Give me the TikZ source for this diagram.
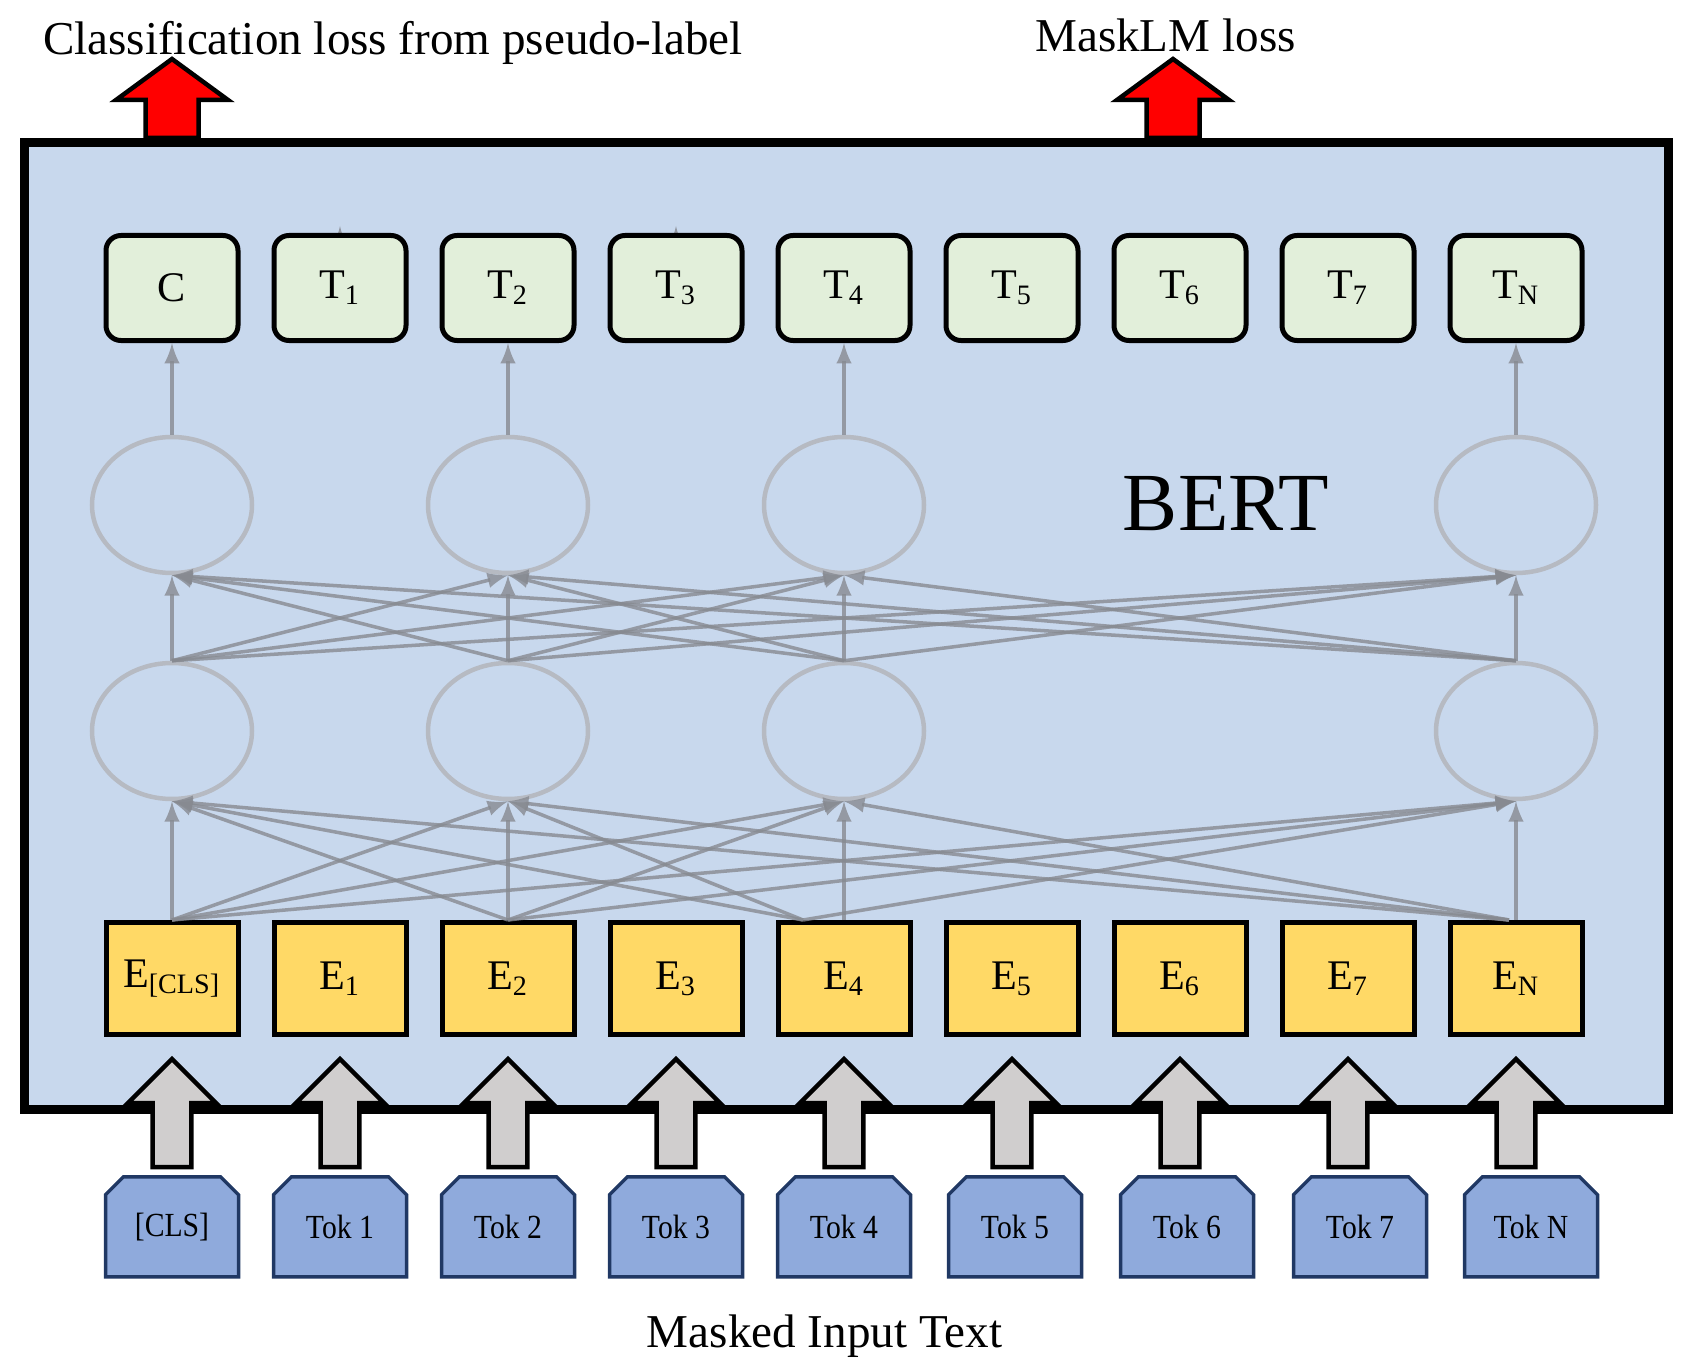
\documentclass[tikz,border=0pt]{standalone}
\usepackage{fontspec}
\setmainfont{Liberation Serif}
\usepackage{tikz}
\usetikzlibrary{arrows,positioning,calc,fit,backgrounds,shapes.geometric,shapes.misc}
\definecolor{bertfill}{RGB}{200,216,237}
\definecolor{outfill}{RGB}{226,239,218}
\definecolor{embfill}{RGB}{255,217,102}
\definecolor{tokfill}{RGB}{143,170,220}
\definecolor{tokline}{RGB}{32,56,100}
\definecolor{infill}{RGB}{208,206,206}
\definecolor{linkgray}{RGB}{135,138,145}
\definecolor{cellgray}{RGB}{182,186,194}
\tikzset{
  flow/.style={>=latex,line width=0.5pt},
  bertbox/.style={draw=black,fill=bertfill,line width=0.09cm,inner sep=0pt},
  outblk/.style={draw=black,fill=outfill,rounded corners=1.5mm,line width=0.05cm,
    minimum width=1.32cm,minimum height=1.05cm,inner sep=0pt,font=\fontsize{12}{14}\selectfont},
  embblk/.style={draw=black,fill=embfill,line width=0.05cm,
    minimum width=1.32cm,minimum height=1.12cm,inner sep=0pt,font=\fontsize{12}{14}\selectfont},
  tokblk/.style={chamfered rectangle,chamfered rectangle corners={north west,north east},
    chamfered rectangle xsep=0.09cm,chamfered rectangle ysep=0.09cm,
    draw=tokline,fill=tokfill,line width=0.035cm,minimum width=1.33cm,minimum height=1.0cm,
    inner sep=0pt,font=\fontsize{9.6}{11}\selectfont\addfontfeature{FakeStretch=0.88}},
  cell/.style={ellipse,draw=cellgray,line width=0.045cm,minimum width=1.6cm,
    minimum height=1.36cm,inner sep=0pt},
  link/.style={->,color=linkgray,opacity=0.8,line width=1pt},
  lbl/.style={font=\fontsize{13.4}{16}\selectfont,inner sep=0pt},
  pics/inarrow/.style={code={
    \draw[fill=infill,line width=0.045cm] (-0.193,0) -- (-0.193,0.64) -- (-0.44,0.64) -- (0,1.08)
      -- (0.44,0.64) -- (0.193,0.64) -- (0.193,0) -- cycle;}},
  pics/lossarrow/.style={code={
    \draw[fill=red,line width=0.045cm] (-0.265,0) -- (-0.265,0.38) -- (-0.56,0.38) -- (0,0.79)
      -- (0.56,0.38) -- (0.265,0.38) -- (0.265,0) -- cycle;}},
}

\begin{document}
\begin{tikzpicture}[flow,node distance=3.1mm]
\useasboundingbox (0,0) rectangle (16.96,13.64);
% output row
\node[outblk] (c) at (1.72,10.76) {C};
\node[outblk,right=of c] (t1) {T\textsubscript{1}};
\node[outblk,right=of t1] (t2) {T\textsubscript{2}};
\node[outblk,right=of t2] (t3) {T\textsubscript{3}};
\node[outblk,right=of t3] (t4) {T\textsubscript{4}};
\node[outblk,right=of t4] (t5) {T\textsubscript{5}};
\node[outblk,right=of t5] (t6) {T\textsubscript{6}};
\node[outblk,right=of t6] (t7) {T\textsubscript{7}};
\node[outblk,right=of t7] (tn) {T\textsubscript{N}};
% embeddings
\node[embblk] (ecls) at (1.72,3.855) {E\textsubscript{[CLS]}};
\node[embblk,right=of ecls] (e1) {E\textsubscript{1}};
\node[embblk,right=of e1] (e2) {E\textsubscript{2}};
\node[embblk,right=of e2] (e3) {E\textsubscript{3}};
\node[embblk,right=of e3] (e4) {E\textsubscript{4}};
\node[embblk,right=of e4] (e5) {E\textsubscript{5}};
\node[embblk,right=of e5] (e6) {E\textsubscript{6}};
\node[embblk,right=of e6] (e7) {E\textsubscript{7}};
\node[embblk,right=of e7] (en) {E\textsubscript{N}};
% input tokens
\node[tokblk,below=1.38cm of ecls] (tokcls) {[CLS]};
\node[tokblk,below=1.38cm of e1] (tok1) {Tok 1};
\node[tokblk,below=1.38cm of e2] (tok2) {Tok 2};
\node[tokblk,below=1.38cm of e3] (tok3) {Tok 3};
\node[tokblk,below=1.38cm of e4] (tok4) {Tok 4};
\node[tokblk,below=1.38cm of e5,xshift=0.03cm] (tok5) {Tok 5};
\node[tokblk,below=1.38cm of e6,xshift=0.07cm] (tok6) {Tok 6};
\node[tokblk,below=1.38cm of e7,xshift=0.12cm] (tok7) {Tok 7};
\node[tokblk,below=1.38cm of en,xshift=0.15cm] (tokn) {Tok N};
% transformer cells
\node[cell] (u1) at (c |- 0,8.59) {};
\node[cell] (u2) at (t2 |- 0,8.59) {};
\node[cell] (u3) at (t4 |- 0,8.59) {};
\node[cell] (u4) at (tn |- 0,8.59) {};
\node[cell,below=0.855cm of u1] (l1) {};
\node[cell,below=0.855cm of u2] (l2) {};
\node[cell,below=0.855cm of u3] (l3) {};
\node[cell,below=0.855cm of u4] (l4) {};
\node[font=\fontsize{23.5}{28}\selectfont,inner sep=0pt] (bertlbl) at (12.26,8.60) {BERT};
\coordinate (bsw) at (0.24,2.545);
\coordinate (bne) at (16.68,12.215);
\begin{scope}[on background layer]
\node[bertbox,fit=(bsw)(bne)] (bert) {};
\draw[link] (t1.center) -- ([yshift=0.07cm]t1.north);
\draw[link] (t3.center) -- ([yshift=0.07cm]t3.north);
\end{scope}
% connections
\coordinate (s4) at ([xshift=-0.41cm]e4.north);
\coordinate (sn) at ([xshift=-0.07cm]en.north);
\path[link] (ecls.north) edge (l1.south) edge (l2.south) edge (l3.south) edge (l4.south);
\path[link] (e2.north) edge (l1.south) edge (l2.south) edge (l3.south) edge (l4.south);
\path[link] (s4) edge (l1.south) edge (l2.south) edge (l4.south);
\path[link] (e4.north) edge (l3.south);
\path[link] (sn) edge (l1.south) edge (l2.south) edge (l3.south);
\path[link] (en.north) edge (l4.south);
\path[link] (l1.north) edge (u1.south) edge (u2.south) edge (u3.south) edge (u4.south);
\path[link] (l2.north) edge (u1.south) edge (u2.south) edge (u3.south) edge (u4.south);
\path[link] (l3.north) edge (u1.south) edge (u2.south) edge (u3.south) edge (u4.south);
\path[link] (l4.north) edge (u1.south) edge (u2.south) edge (u3.south) edge (u4.south);
\draw[link] (u1) -- (c);
\draw[link] (u2) -- (t2);
\draw[link] (u3) -- (t4);
\draw[link] (u4) -- (tn);
% block arrows
\pic at ([yshift=-1.30cm]ecls.south) {inarrow};
\pic at ([yshift=-1.30cm]e1.south) {inarrow};
\pic at ([yshift=-1.30cm]e2.south) {inarrow};
\pic at ([yshift=-1.30cm]e3.south) {inarrow};
\pic at ([yshift=-1.30cm]e4.south) {inarrow};
\pic at ([yshift=-1.30cm]e5.south) {inarrow};
\pic at ([yshift=-1.30cm]e6.south) {inarrow};
\pic at ([yshift=-1.30cm]e7.south) {inarrow};
\pic at ([yshift=-1.30cm]en.south) {inarrow};
\pic at ([yshift=0.045cm]c |- bne) {lossarrow};
\pic at ([xshift=-0.07cm,yshift=0.045cm]t6 |- bne) {lossarrow};
% labels
\node[lbl,anchor=base] (clsloss) at (3.93,13.09) {Classification loss from pseudo-label};
\node[lbl,anchor=base] (mlmloss) at (11.655,13.12) {MaskLM loss};
\node[lbl,anchor=base] (inlbl) at (8.245,0.17) {Masked Input Text};
\end{tikzpicture}
\end{document}
